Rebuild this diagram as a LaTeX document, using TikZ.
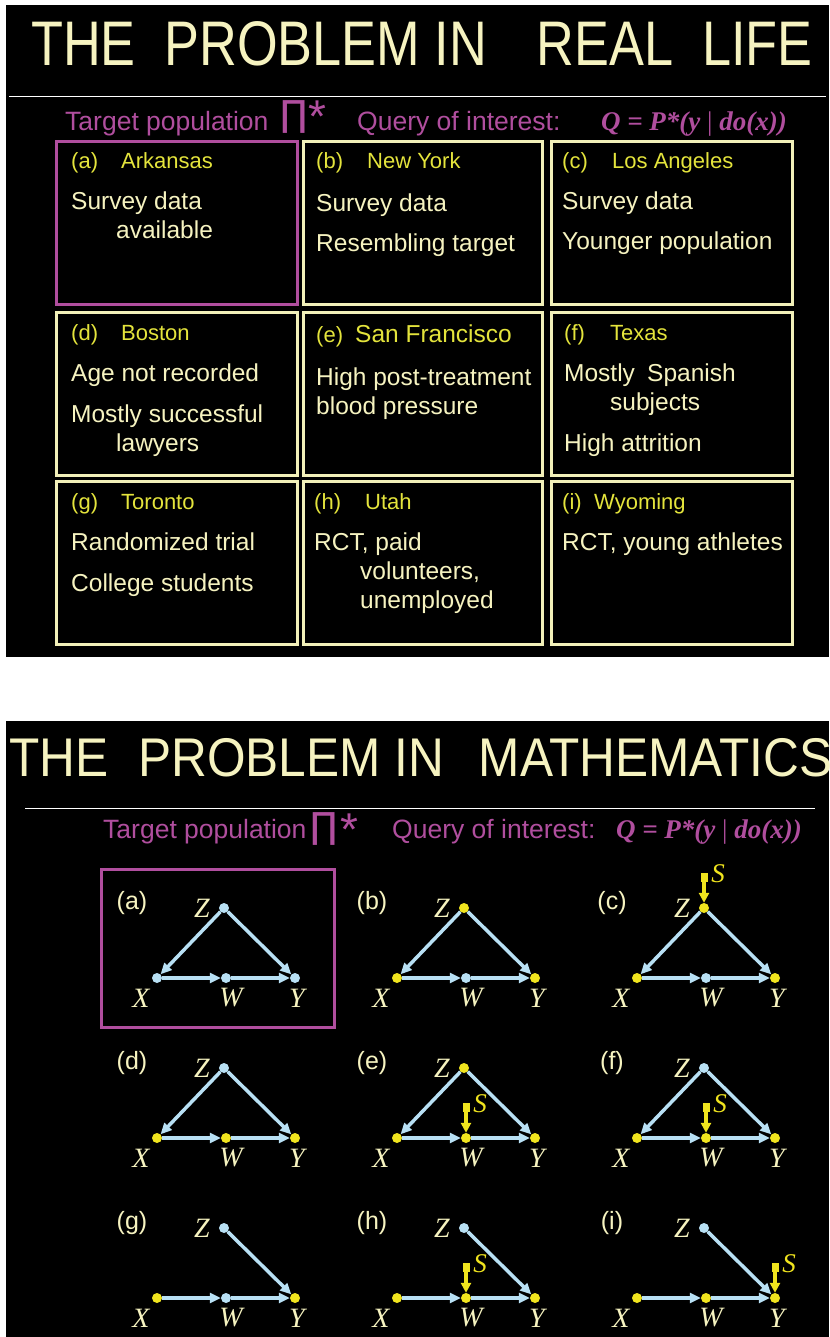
\documentclass[tikz,border=0pt]{standalone}
\usepackage{fontspec}
\setmainfont{Liberation Sans}
\newfontfamily\serifit{Liberation Serif}
\newfontfamily\djv{DejaVu Sans}
\usetikzlibrary{arrows.meta,calc}
\definecolor{cream}{RGB}{246,243,192}
\definecolor{boxcream}{RGB}{242,240,185}
\definecolor{lblyel}{RGB}{228,228,60}
\definecolor{mag}{RGB}{176,78,158}
\definecolor{nodeyel}{RGB}{240,228,30}
\definecolor{lblue}{RGB}{184,224,244}
\tikzset{
  body/.style={anchor=base west, inner sep=0, text=cream, font=\fontsize{24.5}{28}\selectfont},
  lab/.style={anchor=base west, inner sep=0, text=lblyel, font=\fontsize{22}{26}\selectfont},
  cbox/.style={draw=boxcream, line width=3pt, anchor=north west, inner sep=0, minimum height=163pt},
  mbox/.style={draw=mag, line width=3pt, anchor=north west, inner sep=0},
  vnode/.style={circle, inner sep=0, minimum size=10pt},
  bedge/.style={draw=lblue, line width=3.5pt, -{Triangle[length=11pt,width=10pt]}},
  vlab/.style={inner sep=0, text=cream, font=\serifit\itshape\fontsize{28}{30}\selectfont},
  plab/.style={inner sep=0, text=cream, font=\fontsize{25}{28}\selectfont},
  sqnode/.style={rectangle, fill=nodeyel, inner sep=0, minimum width=7pt, minimum height=9pt},
  sedge/.style={draw=nodeyel, line width=3.5pt, -{Triangle[length=10pt,width=10pt]}},
  slab/.style={inner sep=0, text=nodeyel, font=\serifit\itshape\fontsize{27}{30}\selectfont},
  head/.style={anchor=base west, inner sep=0, text=mag, font=\fontsize{26.5}{30}\selectfont},
  formula/.style={anchor=base east, inner sep=0, text=mag, font=\serifit\bfseries\itshape\fontsize{27}{30}\selectfont},
  prodsym/.style={anchor=north, inner sep=0, text=mag, font=\djv\fontsize{36}{38}\selectfont},
  star/.style={anchor=north, inner sep=0, text=mag, font=\fontsize{46}{48}\selectfont},
  ttl/.style={anchor=base west, inner sep=0, text=cream}
}
\newcommand\dagpanel[8]{%
  \node[vnode, fill=#4] (#1Z) at (#2+67,#3) {};
  \node[vnode, fill=#5] (#1X) at (#2,#3+70) {};
  \node[vnode, fill=#6] (#1W) at (#2+69,#3+70) {};
  \node[vnode, fill=#7] (#1Y) at (#2+138,#3+70) {};
  \draw[bedge] (#1X) -- (#1W);
  \draw[bedge] (#1W) -- (#1Y);
  \draw[bedge] (#1Z) -- (#1Y);
  \ifnum#8=1 \draw[bedge] (#1Z) -- (#1X);\fi
  \node[plab] (#1lab) at (#2-25,#3-5) {(#1)};
  \node[vlab] (#1Zl) at (#2+45,#3) {Z};
  \node[vlab] (#1Xl) at (#2-16,#3+90) {X};
  \node[vlab] (#1Wl) at (#2+74,#3+90) {W};
  \node[vlab] (#1Yl) at (#2+140,#3+90) {Y};
}
\newcommand\smark[2]{%
  \node[sqnode] (#2) at ($(#1)+(0,-31)$) {};
  \draw[sedge] (#2) -- (#1);
  \node[slab] (#2l) at ($(#1)+(14,-34)$) {S};
}
\begin{document}
\begin{tikzpicture}[x=1pt,y=-1pt]
\useasboundingbox (0,0) rectangle (829,1337);
\fill[white] (0,0) rectangle (829,1337);
\fill[black] (6,5) rectangle (829,657);
\fill[black] (6,721) rectangle (829,1337);

% ---------- top panel ----------
\node[ttl] (title1) at (31,66) {\scalebox{0.83}[1]{\fontsize{63}{63}\selectfont THE\hspace{0.55em}PROBLEM IN\hspace{0.95em}REAL\hspace{0.55em}LIFE}};
\draw[white, line width=1pt] (9,97) coordinate (l1a) -- (826,97) coordinate (l1b);
\node[head] (tp1) at (65,131) {Target population};
\node[prodsym] (pi1) at (294,100) {∏};
\node[star] (st1) at (317,101) {*};
\node[head] (q1) at (357,131) {Query of interest:};
\node[formula] (f1) at (787,131) {Q = P*(y {\upshape\mdseries|} do(x))};

\node[mbox, minimum width=241pt, minimum height=163pt] (ba) at (55,140) {};
\node[cbox, minimum width=239pt] (bb) at (302,140) {};
\node[cbox, minimum width=241pt] (bc) at (550,140) {};
\node[cbox, minimum width=241pt] (bd) at (55,311) {};
\node[cbox, minimum width=239pt] (be) at (302,311) {};
\node[cbox, minimum width=241pt] (bf) at (550,311) {};
\node[cbox, minimum width=241pt] (bg) at (55,480) {};
\node[cbox, minimum width=239pt] (bh) at (302,480) {};
\node[cbox, minimum width=241pt] (bi) at (550,480) {};

% (a)
\node[lab] (la1) at (71,169) {(a)};
\node[lab] (la2) at (121,169) {Arkansas};
\node[body] (ta1) at (71,210) {Survey data};
\node[body] (ta2) at (116,239) {available};
% (b)
\node[lab] (lb1) at (316,169) {(b)};
\node[lab] (lb2) at (367,169) {New York};
\node[body] (tb1) at (316,212) {Survey data};
\node[body] (tb2) at (316,252) {Resembling target};
% (c)
\node[lab] (lc1) at (562,169) {(c)};
\node[lab] (lc2) at (612,169) {Los Angeles};
\node[body] (tc1) at (562,210) {Survey data};
\node[body] (tc2) at (562,250) {Younger population};
% (d)
\node[lab] (ld1) at (71,340) {(d)};
\node[lab] (ld2) at (121,340) {Boston};
\node[body] (td1) at (71,381) {Age not recorded};
\node[body] (td2) at (71,422) {Mostly successful};
\node[body] (td3) at (116,451) {lawyers};
% (e)
\node[lab] (le1) at (316,342) {(e)};
\node[lab, font=\fontsize{24.5}{28}\selectfont] (le2) at (355,342) {San Francisco};
\node[body] (te1) at (316,385) {High post-treatment};
\node[body] (te2) at (316,414) {blood pressure};
% (f)
\node[lab] (lf1) at (564,340) {(f)};
\node[lab] (lf2) at (610,340) {Texas};
\node[body] (tf1) at (564,381) {Mostly\hspace{0.5em}Spanish};
\node[body] (tf2) at (610,410) {subjects};
\node[body] (tf3) at (564,451) {High attrition};
% (g)
\node[lab] (lg1) at (71,509) {(g)};
\node[lab] (lg2) at (121,509) {Toronto};
\node[body] (tg1) at (71,550) {Randomized trial};
\node[body] (tg2) at (71,591) {College students};
% (h)
\node[lab] (lh1) at (314,509) {(h)};
\node[lab] (lh2) at (365,509) {Utah};
\node[body] (th1) at (314,550) {RCT, paid};
\node[body] (th2) at (360,579) {volunteers,};
\node[body] (th3) at (360,608) {unemployed};
% (i)
\node[lab] (li1) at (562,509) {(i)};
\node[lab] (li2) at (594,509) {Wyoming};
\node[body] (ti1) at (562,550) {RCT, young athletes};

% ---------- bottom panel ----------
\begin{scope}
\clip (6,721) rectangle (829,1337);
\node[ttl] (title2) at (9,776) {\scalebox{0.91}[1]{\fontsize{54.5}{54.5}\selectfont THE\hspace{0.6em}PROBLEM IN\hspace{0.7em}MATHEMATICS}};
\end{scope}
\draw[white, line width=1pt] (25,808) coordinate (l2a) -- (815,808) coordinate (l2b);
\node[head] (tp2) at (103,838) {Target population};
\node[prodsym] (pi2) at (324,812) {∏};
\node[star] (st2) at (349,814) {*};
\node[head] (q2) at (392,838) {Query of interest:};
\node[formula] (f2) at (802,838) {Q = P*(y {\upshape\mdseries|} do(x))};

\node[mbox, minimum width=233pt, minimum height=158pt] (ga) at (100,868) {};

\dagpanel{a}{157}{908}{lblue}{lblue}{lblue}{lblue}{1}
\dagpanel{b}{397}{908}{nodeyel}{nodeyel}{lblue}{nodeyel}{1}
\dagpanel{c}{637}{908}{nodeyel}{nodeyel}{lblue}{nodeyel}{1}
\smark{cZ}{cS}
\dagpanel{d}{157}{1068}{lblue}{nodeyel}{nodeyel}{nodeyel}{1}
\dagpanel{e}{397}{1068}{nodeyel}{nodeyel}{nodeyel}{nodeyel}{1}
\smark{eW}{eS}
\dagpanel{f}{637}{1068}{lblue}{nodeyel}{nodeyel}{nodeyel}{1}
\smark{fW}{fS}
\dagpanel{g}{157}{1228}{lblue}{nodeyel}{lblue}{nodeyel}{0}
\dagpanel{h}{397}{1228}{lblue}{nodeyel}{nodeyel}{nodeyel}{0}
\smark{hW}{hS}
\dagpanel{i}{637}{1228}{lblue}{nodeyel}{nodeyel}{nodeyel}{0}
\smark{iY}{iS}
\end{tikzpicture}
\end{document}
